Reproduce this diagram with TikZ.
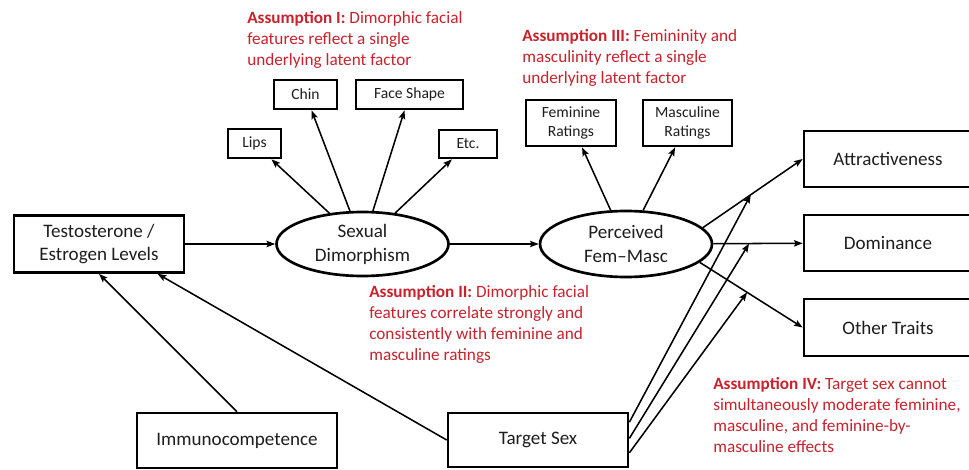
\documentclass[tikz,border=0pt]{standalone}
\usepackage{fontspec}
\setmainfont{Carlito}
\usetikzlibrary{shapes.geometric,arrows.meta,calc}
\definecolor{asred}{RGB}{200,35,45}
\definecolor{txt}{RGB}{30,30,30}
\begin{document}
\begin{tikzpicture}[x=0.75pt,y=-0.75pt,
  box/.style={draw=black, line width=2pt, rectangle, inner sep=0pt, align=center, text=txt},
  big/.style={font=\fontsize{14.3}{17.25}\selectfont},
  small/.style={font=\fontsize{11.7}{14.25}\selectfont},
  latent/.style={draw=black, line width=2pt, ellipse, inner sep=0pt, align=center, text=txt, font=\fontsize{14.3}{18}\selectfont},
  note/.style={anchor=north west, inner sep=0pt, align=left, text=asred, font=\fontsize{12.9}{15.75}\selectfont},
  arr/.style={line width=1.15pt, -{Stealth[length=6.5pt,width=4.8pt,inset=1.2pt]}},
]
\useasboundingbox (0,0) rectangle (969,470);
\clip (0,0) rectangle (969,470);
\fill[white] (0,0) rectangle (969,470);

% main nodes
\node[box,big,minimum width=127.5pt,minimum height=42.75pt] (testo) at (99,244) {Testosterone /\\Estrogen Levels};
\node[latent,minimum width=129pt,minimum height=48pt] (sd) at (362.5,244) {Sexual\\Dimorphism};
\node[latent,minimum width=129pt,minimum height=49.5pt] (pfm) at (626,244) {Perceived\\Fem–Masc};

% indicators
\node[box,small,minimum width=39.75pt,minimum height=21.75pt] (lips) at (254.5,143.5) {Lips};
\node[box,small,minimum width=47.25pt,minimum height=21.75pt] (chin) at (305.5,94.5) {Chin};
\node[box,small,minimum width=80.25pt,minimum height=21.75pt] (face) at (409.5,94.5) {Face Shape};
\node[box,small,minimum width=43.5pt,minimum height=21pt] (etc) at (468,144) {Etc.};
\node[box,small,minimum width=67.5pt,minimum height=34.5pt] (fem) at (571,123) {Feminine\\Ratings};
\node[box,small,minimum width=66.75pt,minimum height=34.5pt] (masc) at (687.5,123) {Masculine\\Ratings};

% outcomes
\node[box,big,minimum width=126pt,minimum height=42pt] (attr) at (888,159) {Attractiveness};
\node[box,big,minimum width=126pt,minimum height=42pt] (dom) at (888,243) {Dominance};
\node[box,big,minimum width=126pt,minimum height=42.75pt] (other) at (888,327.5) {Other Traits};

% exogenous
\node[box,big,minimum width=150pt,minimum height=41.25pt] (immuno) at (237,440.5) {Immunocompetence};
\node[box,big,minimum width=135pt,minimum height=40.5pt] (target) at (538,440) {Target Sex};

% connectors
\draw[arr] (testo) -- (sd);
\draw[arr] (sd) -- (pfm);
\draw[arr] (sd) -- (lips);
\draw[arr] (sd) -- (chin);
\draw[arr] (sd) -- (face);
\draw[arr] (sd) -- (etc);
\draw[arr] (pfm) -- (fem);
\draw[arr] (pfm) -- (masc);
\draw[arr] (pfm.12) -- (attr.west);
\draw[arr] (pfm) -- (dom);
\draw[arr] (pfm.-14) -- (other.west);
\coordinate (ma) at ($(pfm.12)!0.48!(attr.west)$);
\coordinate (md) at ($(pfm.east)!0.40!(dom.west)$);
\coordinate (mo) at ($(pfm.-14)!0.46!(other.west)$);
\draw[arr] (target.11) -- (ma);
\draw[arr] (target.1) -- (md);
\draw[arr] (target.-8) -- (mo);
\draw[arr] (immuno.north) -- (testo.south);
\draw[arr] (target.west) -- (testo.-27);

% assumptions
\node[note] (a1) at (247,11) {\textbf{Assumption I:} Dimorphic facial\\features reflect a single\\underlying latent factor};
\node[note] (a3) at (522,29) {\textbf{Assumption III:} Femininity and\\masculinity reflect a single\\underlying latent factor};
\node[note] (a2) at (369,285) {\textbf{Assumption II:} Dimorphic facial\\features correlate strongly and\\consistently with feminine and\\masculine ratings};
\node[note] (a4) at (713,377) {\textbf{Assumption IV:} Target sex cannot\\simultaneously moderate feminine,\\masculine, and feminine-by-\\masculine effects};
\end{tikzpicture}
\end{document}
